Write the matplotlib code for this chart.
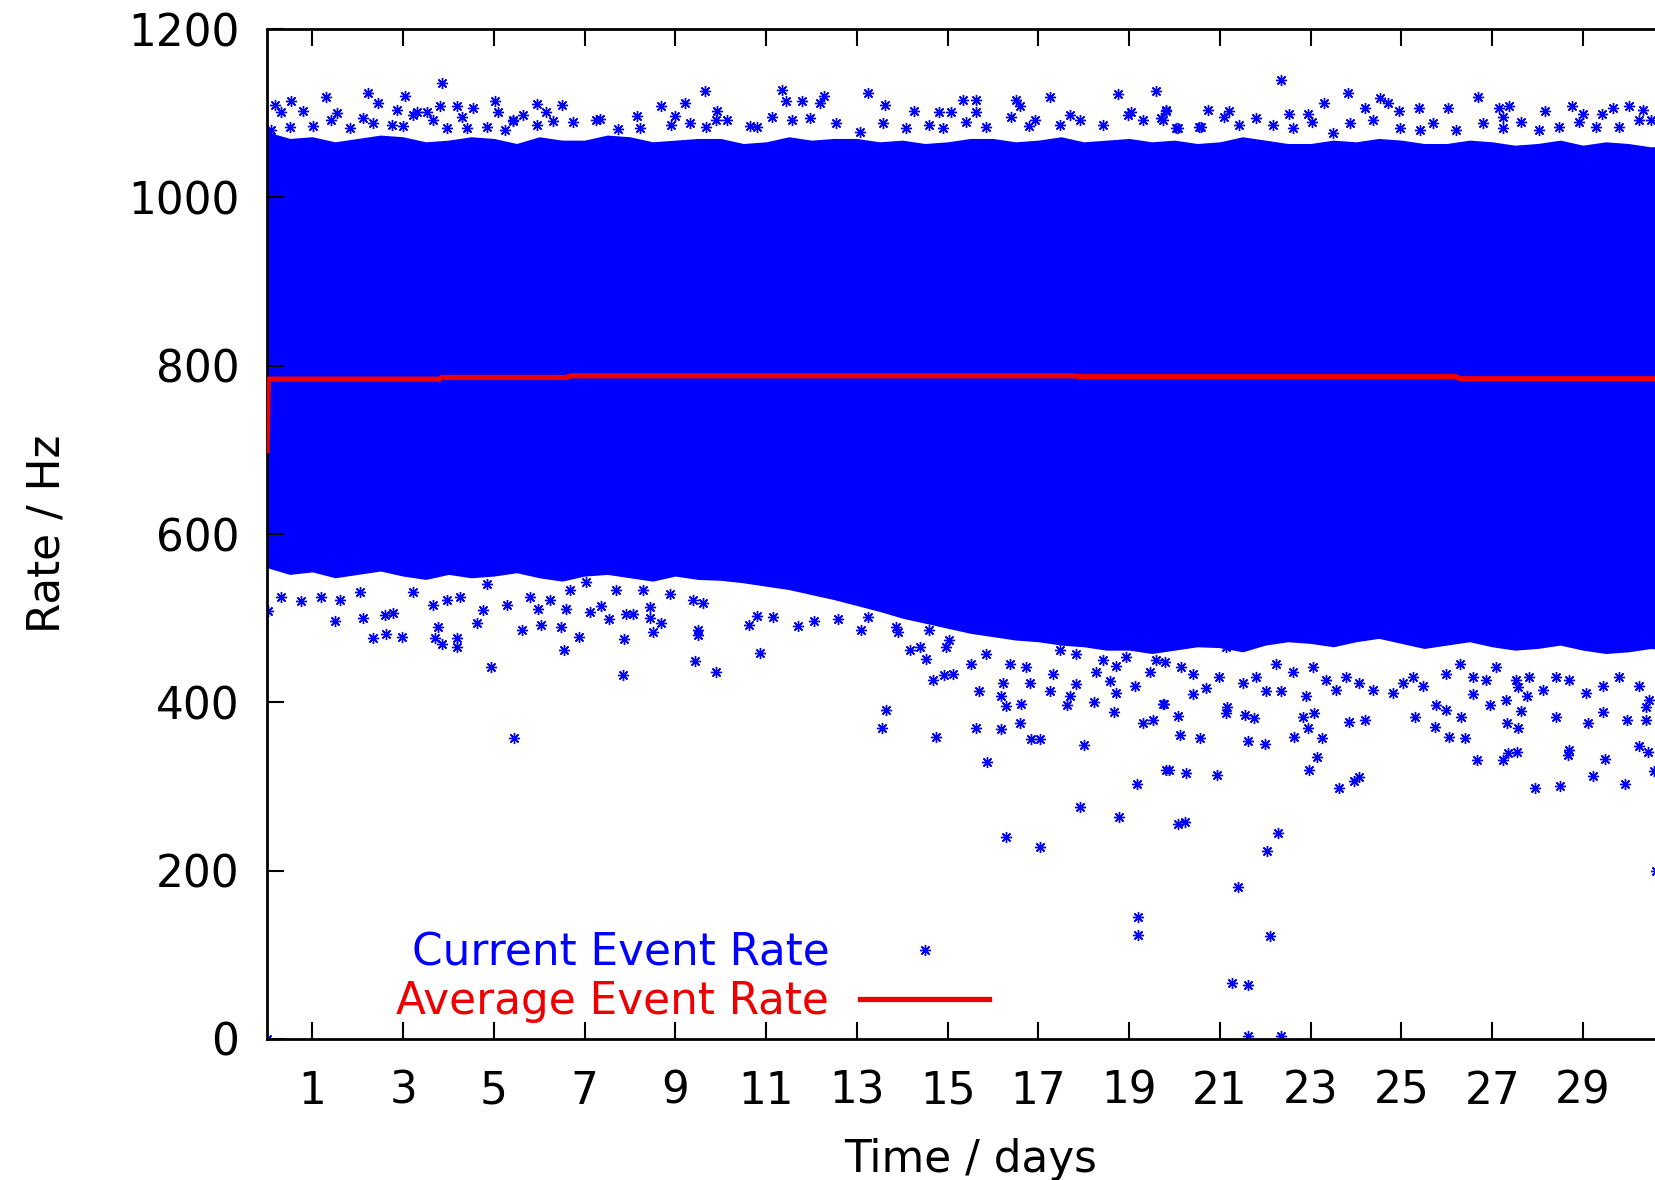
import numpy as np
import matplotlib.pyplot as plt

plt.rcParams['font.family'] = ['DejaVu Sans']

# dense part of the rate band, read per half day (Hz)
band_days = [i * 0.5 for i in range(0, 63)]
band_top = [1078, 1070, 1072, 1066, 1070, 1074, 1072, 1066, 1068, 1072, 1070, 1064, 1072, 1068, 1068, 1074,
            1072, 1066, 1068, 1070, 1070, 1064, 1066, 1072, 1068, 1070, 1070, 1066, 1068, 1064, 1066, 1070,
            1070, 1066, 1068, 1072, 1066, 1068, 1070, 1066, 1068, 1064, 1066, 1072, 1068, 1064, 1064, 1068,
            1066, 1070, 1068, 1064, 1064, 1068, 1066, 1062, 1064, 1068, 1062, 1066, 1064, 1060, 1062]
band_bottom = [560, 552, 555, 548, 552, 556, 550, 546, 552, 548, 550, 554, 548, 544, 550, 552,
               548, 544, 550, 546, 545, 542, 538, 534, 528, 522, 515, 508, 500, 494, 488, 482,
               478, 474, 472, 468, 466, 462, 462, 458, 462, 466, 465, 460, 468, 472, 470, 466,
               472, 476, 470, 464, 468, 472, 466, 462, 464, 468, 462, 458, 460, 464, 460]

# single readings outside the dense band (days, Hz)
upper_days = [3.85, 1.31, 0.54, 0.18, 0.32, 0.80, 2.23, 2.45, 3.04, 2.86, 3.81, 4.18, 4.54, 4.29, 5.02, 5.10,
              5.94, 6.16, 6.51, 6.31, 7.33, 8.16, 8.69, 8.99, 9.21, 9.65, 9.91, 1.54, 3.30, 5.43,
              11.34, 11.43, 11.80, 12.27, 12.19, 13.25, 13.63, 14.25, 14.81, 15.08, 15.34, 15.63, 15.63,
              16.51, 16.60, 17.26, 18.75, 19.60, 10.13, 10.79, 16.92, 17.69, 19.05, 19.82,
              22.35, 23.82, 23.30, 24.52, 24.70, 26.68, 20.73, 19.82, 21.21, 22.53, 22.94, 24.19, 24.94,
              25.38, 26.02, 27.15, 27.36, 28.17, 28.76, 29.66, 30.02, 30.32, 29.43, 29.01, 27.23, 20.55, 20.04,
              0.10, 0.51, 1.02, 1.42, 1.83, 2.12, 2.34, 2.75, 3.00, 3.22, 3.52, 3.66, 3.96, 4.40, 4.84, 5.24,
              5.43, 5.65, 5.94, 6.75, 7.26, 7.74, 8.22, 8.91, 9.32, 9.68,
              9.89, 10.64, 11.12, 11.56, 11.96, 12.55, 13.06, 13.58, 14.09, 14.60, 14.90, 15.41, 15.85, 16.40,
              16.80, 17.47, 17.91, 18.42, 18.97, 19.30, 19.71,
              19.74, 20.07, 20.59, 21.10, 21.43, 21.80, 22.16, 22.61, 23.04, 23.49, 23.86, 24.37, 24.96, 25.40,
              25.69, 26.20, 26.79, 27.23, 27.64, 28.04, 28.48, 28.92, 29.29, 29.80, 30.24, 30.50]
upper_rate = [1136, 1119, 1114, 1110, 1102, 1103, 1124, 1112, 1120, 1104, 1108, 1108, 1106, 1095, 1115, 1102,
              1111, 1102, 1110, 1091, 1093, 1097, 1108, 1097, 1112, 1126, 1103, 1100, 1102, 1092,
              1127, 1115, 1114, 1121, 1112, 1124, 1110, 1103, 1101, 1101, 1116, 1116, 1101,
              1116, 1108, 1119, 1123, 1126, 1092, 1083, 1092, 1098, 1102, 1103,
              1140, 1124, 1112, 1118, 1112, 1119, 1104, 1104, 1103, 1099, 1099, 1106, 1103,
              1106, 1106, 1106, 1108, 1103, 1108, 1106, 1108, 1104, 1099, 1099, 1095, 1083, 1082,
              1080, 1083, 1085, 1092, 1082, 1094, 1088, 1086, 1085, 1098, 1102, 1092, 1082, 1082, 1083, 1080,
              1091, 1098, 1086, 1090, 1092, 1081, 1082, 1086, 1088, 1083,
              1092, 1085, 1095, 1092, 1094, 1088, 1078, 1088, 1082, 1086, 1082, 1090, 1083, 1095,
              1085, 1086, 1092, 1086, 1098, 1092, 1094,
              1092, 1082, 1083, 1095, 1086, 1094, 1086, 1082, 1090, 1076, 1088, 1092, 1082, 1080,
              1088, 1080, 1088, 1082, 1090, 1080, 1084, 1090, 1084, 1083, 1092, 1092]

lower_days = [0.03, 0.32, 0.76, 1.50, 2.12, 2.34, 2.62, 2.97, 2.78, 2.60, 3.70, 3.85, 3.77, 4.18, 4.18, 4.62,
              4.76, 4.93, 5.44, 5.28, 5.63, 5.98, 6.05, 6.49, 6.54, 6.59, 6.88, 7.11, 7.37, 7.54, 7.86, 7.85,
              7.92, 8.07, 8.44, 8.50, 8.69, 8.88, 9.43, 9.50, 9.50, 9.89,
              1.20, 1.61, 2.05, 3.22, 3.66, 3.96, 4.25, 4.84, 5.79, 6.23, 6.67, 7.04, 7.70, 8.29, 8.44, 9.39, 9.61,
              10.87, 10.62, 10.79, 11.15, 11.70, 12.05, 12.58, 13.10, 13.25, 13.91, 14.16, 14.38, 14.53,
              13.65, 13.56, 14.74, 14.68, 14.93, 15.12, 14.97, 15.52, 15.70, 15.62, 15.87, 16.18, 16.18,
              16.29, 16.22, 16.60, 16.62, 16.84, 17.03, 16.29, 17.03, 16.81, 17.25, 17.69, 17.63, 18.00,
              17.91, 18.77, 19.17, 19.19, 19.19, 18.22, 18.66, 18.70, 18.26, 18.57, 19.12, 19.30, 19.52,
              19.74, 19.82, 19.46, 17.82, 18.72,
              15.04, 15.85, 16.37, 16.73, 17.32, 17.83, 18.42, 18.93, 19.60, 14.60, 13.87, 17.47,
              19.76, 20.07, 20.11, 20.57, 19.87, 20.26, 20.93, 20.07, 20.22, 21.40, 22.03, 22.28, 22.11,
              21.27, 21.62, 21.62, 22.35, 20.40, 21.14, 21.15, 21.62, 22.00, 21.56, 21.76, 22.35, 22.64,
              22.97, 23.14, 23.25, 22.94, 22.83, 23.08, 22.90, 23.63, 23.96, 24.07, 23.85, 24.19, 25.31,
              25.73, 26.04, 26.39, 26.31, 25.98, 26.66, 27.23, 27.34, 27.54, 27.32, 27.56, 27.95, 28.50,
              28.69, 28.66, 29.23, 29.49, 29.93, 30.24, 30.43, 30.57, 27.63, 28.40, 29.11, 29.44, 29.98,
              30.40, 30.40, 26.95, 30.60, 26.57, 27.56, 27.77,
              19.78, 20.15, 20.40, 20.70, 20.99, 21.14, 21.50, 21.80, 22.02, 22.24, 22.61, 23.05, 23.34,
              23.56, 23.78, 24.07, 24.37, 24.81, 25.03, 25.25, 25.47, 25.76, 25.98, 26.28, 26.57, 26.87,
              27.09, 27.31, 27.53, 27.82, 28.11, 28.41, 28.70, 29.07, 29.44, 29.80, 30.24, 30.46, 0.0]
lower_rate = [508, 525, 520, 497, 500, 477, 481, 478, 506, 504, 477, 469, 490, 477, 466, 494,
              510, 442, 358, 516, 486, 511, 492, 490, 462, 511, 478, 507, 514, 499, 475, 432,
              505, 505, 500, 484, 494, 529, 449, 486, 480, 436,
              525, 522, 531, 531, 516, 522, 525, 541, 525, 522, 533, 543, 533, 533, 513, 522, 518,
              459, 492, 503, 501, 491, 497, 499, 486, 501, 484, 462, 466, 451,
              391, 370, 359, 427, 432, 434, 466, 446, 413, 370, 329, 368, 408,
              396, 423, 375, 398, 357, 357, 240, 228, 423, 414, 407, 397, 349,
              276, 264, 303, 145, 124, 400, 388, 411, 436, 425, 419, 375, 379,
              398, 320, 436, 422, 443,
              474, 458, 446, 442, 434, 458, 450, 454, 450, 486, 490, 462,
              398, 384, 361, 358, 320, 316, 314, 255, 258, 180, 223, 245, 122,
              66, 64, 3, 3, 410, 387, 394, 354, 351, 385, 381, 414, 359,
              320, 335, 358, 370, 383, 387, 408, 298, 307, 311, 377, 379, 383,
              371, 359, 358, 383, 391, 331, 331, 340, 341, 376, 370, 298, 301,
              343, 338, 312, 333, 303, 348, 341, 319, 390, 383, 376, 388, 379,
              379, 394, 397, 200, 410, 418, 408,
              448, 442, 434, 417, 430, 466, 423, 430, 413, 446, 436, 442, 427,
              415, 430, 423, 415, 411, 423, 430, 419, 397, 434, 446, 430, 427,
              442, 403, 427, 430, 415, 430, 427, 411, 419, 430, 419, 403, 0]

# running average of the event rate
avg_days = [0.0, 0.03, 3.8, 3.85, 6.6, 6.7, 17.8, 17.9, 26.2, 26.3, 31.0]
avg_rate = [699, 784, 784, 786, 786, 788, 788, 787, 787, 784.5, 784.5]

day_ticks = list(range(1, 30, 2))
rate_ticks = list(range(0, 1201, 200))

blue = '#0000ff'
red = '#ee0000'
fs = 31.5

fig = plt.figure(figsize=(16.55, 11.80), dpi=100)
ax = fig.add_axes([0.1613, 0.1195, 0.8500, 0.8559])

ax.fill_between(band_days, band_bottom, band_top, color=blue, linewidth=0, zorder=1)
pts_days = upper_days + lower_days
pts_rate = upper_rate + lower_rate
ax.plot(pts_days, pts_rate, linestyle='none', marker=(8, 2, 0), markersize=8,
        markeredgewidth=1.0, color=blue, label='Current Event Rate', zorder=2)
ax.plot(avg_days, avg_rate, color=red, linewidth=3.8, label='Average Event Rate', zorder=3)

ax.set_xlim(0, 31)
ax.set_ylim(0, 1200)
ax.set_xticks(day_ticks)
ax.set_yticks(rate_ticks)
ax.tick_params(direction='in', length=12, width=1.5, labelsize=fs, top=True, right=True)
ax.tick_params(axis='y', pad=20)
ax.tick_params(axis='x', pad=22)
for s in ax.spines.values():
    s.set_linewidth(2)

ax.set_xlabel('Time / days', fontsize=fs)
ax.set_ylabel('Rate / Hz', fontsize=fs)
ax.xaxis.set_label_coords(0.5, -0.098)
ax.yaxis.set_label_coords(-0.141, 0.5)

leg = ax.legend(loc='lower right', bbox_to_anchor=(0.5133, 0.016), frameon=False, markerfirst=False,
                fontsize=fs, handlelength=2.95, handletextpad=0.7, labelspacing=0.12, borderpad=0,
                borderaxespad=0, numpoints=1, labelcolor='linecolor')

fig.savefig('out.png', dpi=100)
